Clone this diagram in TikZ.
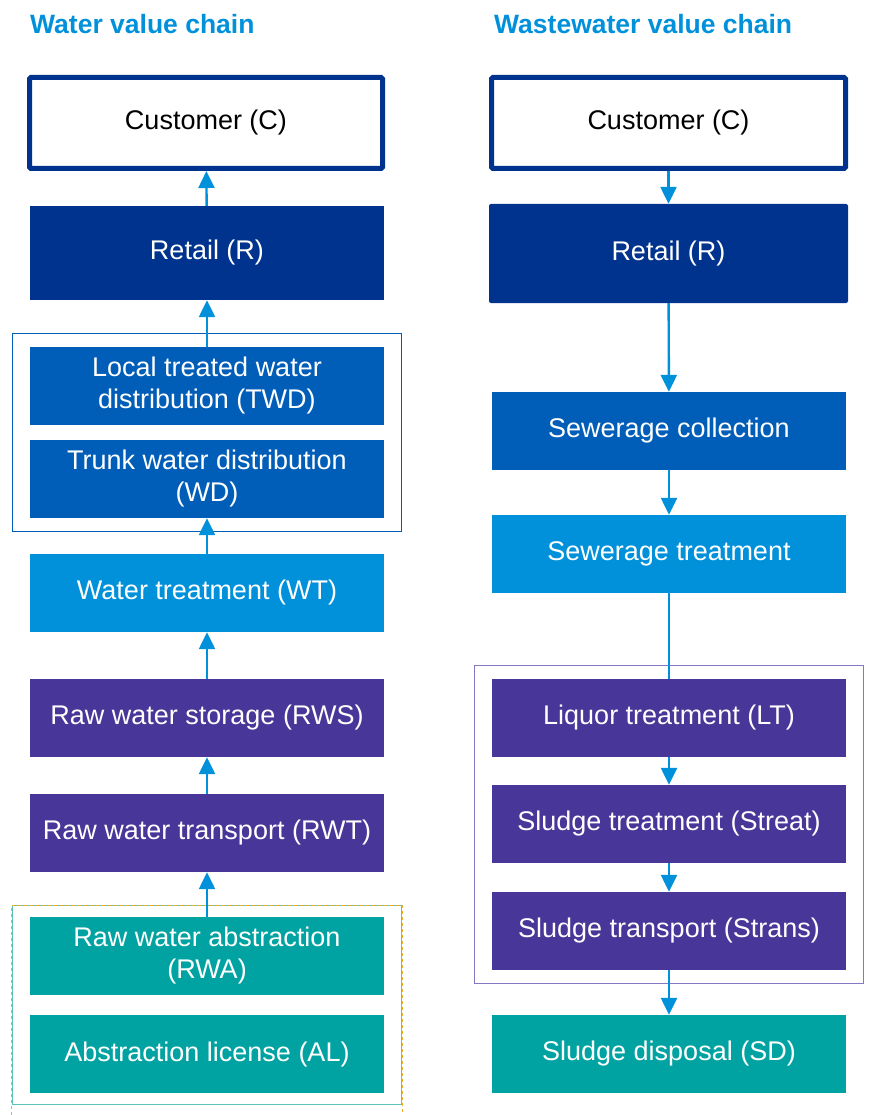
\documentclass[tikz,border=0pt]{standalone}
\usepackage{fontspec}
\setmainfont{Liberation Sans}
\usetikzlibrary{arrows.meta,fit,positioning}
\definecolor{navy}{HTML}{00338D}
\definecolor{mid}{HTML}{005EB8}
\definecolor{light}{HTML}{0091DA}
\definecolor{purple}{HTML}{483698}
\definecolor{purplelite}{HTML}{8478C4}
\definecolor{teal}{HTML}{00A3A1}
\definecolor{teallite}{HTML}{5CC3B8}
\definecolor{amber}{HTML}{E8B128}

\begin{document}
\begin{tikzpicture}[x=1pt,y=-1pt,>={Triangle[width=16pt,length=17pt]},
    stage/.style={minimum width=354pt,minimum height=78pt,inner sep=0pt,align=center,text=white,font=\fontsize{27}{32}\selectfont},
    flow/.style={light,line width=2.4pt},
    title/.style={anchor=west,text=light,font=\bfseries\fontsize{26.5}{30}\selectfont,inner sep=0pt}]
      \useasboundingbox (0,0) rectangle (870,1115);
      % titles
      \node[title] (ttlwater) at (30,24) {Water value chain};
      \node[title] (ttlwaste) at (494,24) {Wastewater value chain};
      % water value chain
      \node[stage,draw=navy,line width=5pt,rounded corners=1.5pt,text=black,minimum width=353pt,minimum height=91pt] (custw) at (206,123) {Customer (C)};
      \node[stage,fill=navy,minimum height=94pt] (retw) at (207,253) {Retail (R)};
      \node[stage,fill=mid] (twd) at (207,386) {Local treated water\\distribution (TWD)};
      \node[stage,fill=mid] (wd) at (207,479) {Trunk water distribution\\(WD)};
      \node[stage,fill=light] (wt) at (207,593) {Water treatment (WT)};
      \node[stage,fill=purple] (rws) at (207,718) {Raw water storage (RWS)};
      \node[stage,fill=purple] (rwt) at (207,833) {Raw water transport (RWT)};
      \node[stage,fill=teal] (rwa) at (207,956) {Raw water abstraction\\(RWA)};
      \node[stage,fill=teal] (al) at (207,1054) {Abstraction license (AL)};
      \node[draw=mid,line width=1.3pt,inner xsep=17.5pt,inner ysep=13.5pt,fit=(twd)(wd)] (grpdist) {};
      \node[draw=teallite,line width=1.3pt,inner xsep=17.5pt,inner ysep=11pt,fit=(rwa)(al)] (grpabs) {};
      \draw[amber,dashed,line width=1.2pt] ([yshift=-10pt]grpabs.south west) -- (grpabs.north west) -- (grpabs.north east) -- ([yshift=-10pt]grpabs.south east);
      \draw[->,flow] (retw) -- (custw);
      \draw[->,flow] (twd) -- (retw);
      \draw[->,flow] (wt) -- (wd);
      \draw[->,flow] (rws) -- (wt);
      \draw[->,flow] (rwt) -- (rws);
      \draw[->,flow] (rwa) -- (rwt);
      % wastewater value chain
      \node[stage,draw=navy,line width=5pt,rounded corners=1.5pt,text=black,minimum width=354pt,minimum height=91pt] (custs) at (668.5,123) {Customer (C)};
      \node[stage,fill=navy,rounded corners=2pt,minimum width=359pt,minimum height=99pt] (rets) at (668.5,253.5) {Retail (R)};
      \node[stage,fill=mid] (sc) at (669,431) {Sewerage collection};
      \node[stage,fill=light] (st) at (669,554) {Sewerage treatment};
      \node[stage,fill=purple] (lt) at (669,718) {Liquor treatment (LT)};
      \node[stage,fill=purple] (streat) at (669,824) {Sludge treatment (Streat)};
      \node[stage,fill=purple] (strans) at (669,931) {Sludge transport (Strans)};
      \node[stage,fill=teal] (sd) at (669,1054) {Sludge disposal (SD)};
      \node[draw=purplelite,line width=1.3pt,inner xsep=17.5pt,inner ysep=13.5pt,fit=(lt)(strans)] (grpsludge) {};
      \draw[->,flow] (custs) -- (rets);
      \draw[->,flow] (rets) -- (sc);
      \draw[->,flow] (sc) -- (st);
      \draw[flow] (st) -- (lt);
      \draw[->,flow] (lt) -- (streat);
      \draw[->,flow] (streat) -- (strans);
      \draw[->,flow] (strans) -- (sd);
    \end{tikzpicture}
\end{document}
